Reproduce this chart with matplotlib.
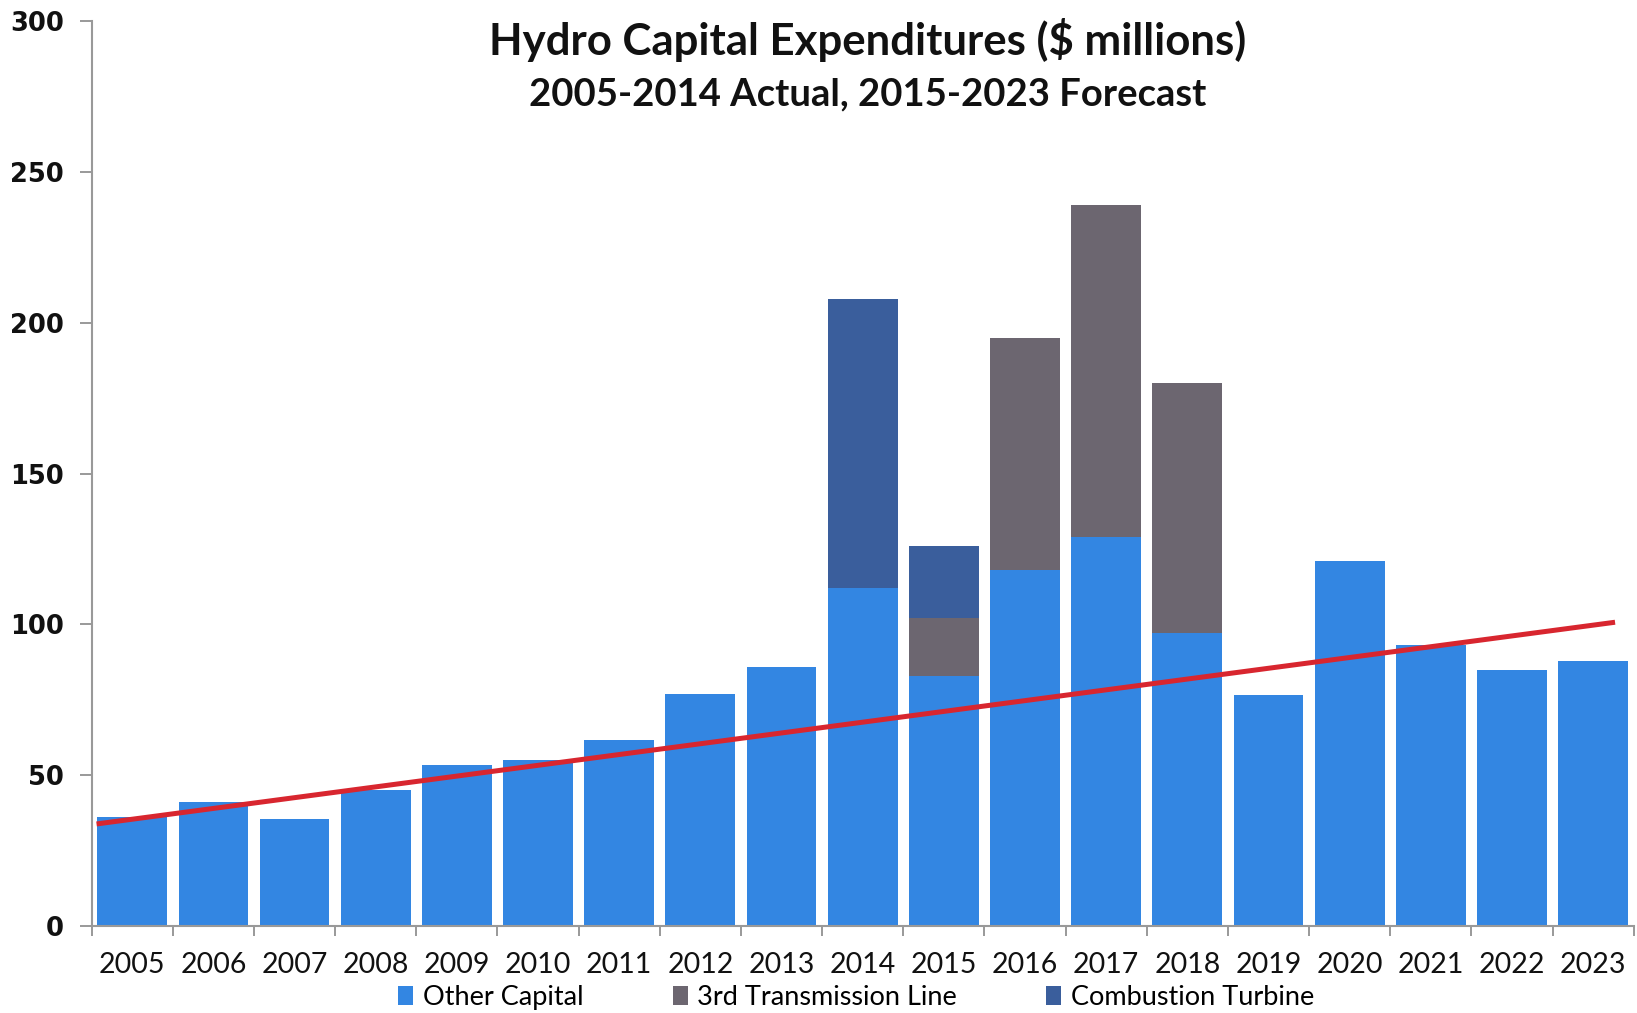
import matplotlib
matplotlib.use("Agg")
import matplotlib.pyplot as plt
import numpy as np

years = ["2005", "2006", "2007", "2008", "2009", "2010", "2011", "2012", "2013", "2014",
         "2015", "2016", "2017", "2018", "2019", "2020", "2021", "2022", "2023"]

other_capital = [36, 41, 35.5, 45, 53.5, 55, 61.5, 77, 86, 112,
                 83, 118, 129, 97, 76.5, 121, 93, 85, 88]
transmission_line = [0, 0, 0, 0, 0, 0, 0, 0, 0, 0,
                     19, 77, 110, 83, 0, 0, 0, 0, 0]
combustion_turbine = [0, 0, 0, 0, 0, 0, 0, 0, 0, 96,
                      24, 0, 0, 0, 0, 0, 0, 0, 0]

# trend line end points (x in category index units)
trend_x = [-0.44, 18.27]
trend_y = [33.8, 100.7]

blue = "#3386E2"
grey = "#6C6670"
dark_blue = "#3A5E9C"
red = "#D8262F"

fig = plt.figure(figsize=(16.37, 10.13), dpi=100)
ax = fig.add_axes([0.056, 0.086, 0.942, 0.893])

x = np.arange(len(years))
other = np.array(other_capital)
trans = np.array(transmission_line)
comb = np.array(combustion_turbine)

width = 0.86
b1 = ax.bar(x, other, width=width, color=blue, label="Other Capital")
b2 = ax.bar(x, trans, width=width, bottom=other, color=grey, label="3rd Transmission Line")
b3 = ax.bar(x, comb, width=width, bottom=other + trans, color=dark_blue, label="Combustion Turbine")

ax.plot(trend_x, trend_y, color=red, linewidth=3.6, solid_capstyle="butt")

ax.set_xlim(-0.48, 18.48)
ax.set_ylim(0, 300)
ax.set_yticks([0, 50, 100, 150, 200, 250, 300])

ax.set_xticks(x)
ax.set_xticklabels(years, fontfamily="Lato", fontsize=20.5)
ax.set_xticks(np.arange(len(years) + 1) - 0.5, minor=True)
ax.tick_params(axis="x", which="major", length=0, pad=19, colors="#111111")
ax.tick_params(axis="x", which="minor", length=7, color="#888888", width=1.2)
ax.tick_params(axis="y", length=9, color="#888888", width=1.2, pad=11,
               labelsize=18.5, labelcolor="#111111")
for lbl in ax.get_yticklabels():
    lbl.set_fontweight("bold")
    lbl.set_fontfamily("DejaVu Sans")

for side in ["top", "right"]:
    ax.spines[side].set_visible(False)
for side in ["left", "bottom"]:
    ax.spines[side].set_color("#999999")
    ax.spines[side].set_linewidth(1.5)

fig.text(0.53, 0.961, "Hydro Capital Expenditures ($ millions)", ha="center", va="center",
         fontsize=31.5, fontweight="bold", fontfamily="Lato", color="#111111")
fig.text(0.53, 0.907, "2005-2014 Actual, 2015-2023 Forecast", ha="center", va="center",
         fontsize=27.5, fontweight="bold", fontfamily="Lato", color="#111111")

fig.legend(handles=[b1, b2, b3], loc="center", bbox_to_anchor=(0.523, 0.015), ncol=3,
           frameon=False, prop={"family": "Lato", "size": 19.5},
           handlelength=0.55, handleheight=0.7, handletextpad=0.35, columnspacing=3.3,
           borderpad=0)

fig.savefig("out.png", dpi=100)
